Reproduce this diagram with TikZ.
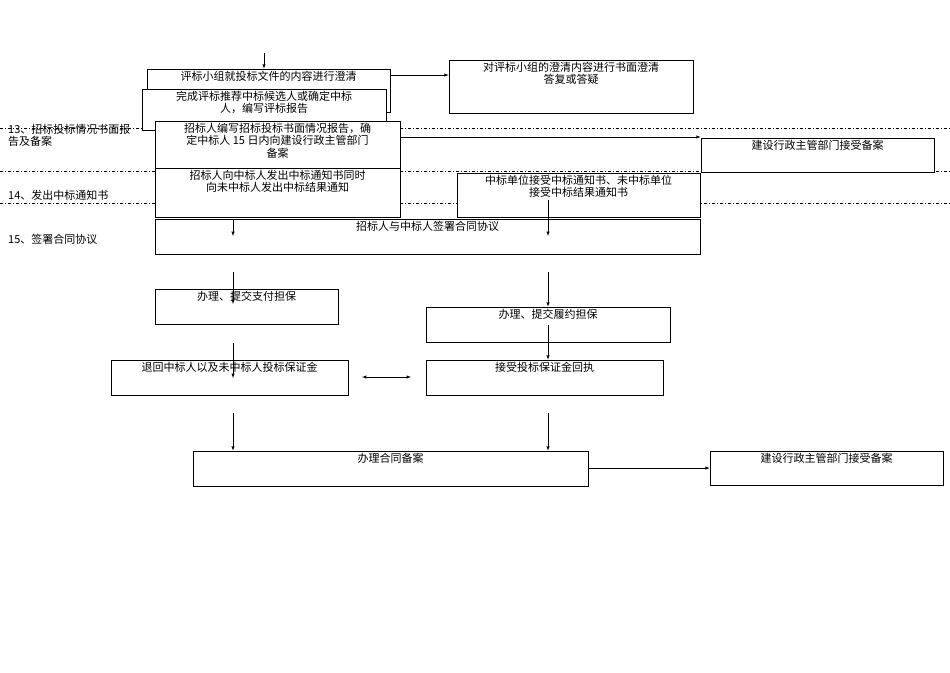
\documentclass[tikz,border=0pt]{standalone}
\usepackage{fontspec}
\setmainfont{Liberation Serif}
\newfontfamily\cjk{Noto Sans CJK SC}
\begin{document}
\begin{tikzpicture}[x=1pt,y=-1pt,
  box/.style={draw,fill=white,line width=0.6pt,inner sep=0pt},
  lbl/.style={anchor=north,align=center,font=\cjk\fontsize{11}{12.5}\selectfont,inner sep=1pt},
  side/.style={anchor=north west,align=left,font=\cjk\fontsize{11}{12.5}\selectfont,inner sep=0pt},
  arr/.style={-latex,line width=0.5pt},
  sep/.style={line width=0.5pt,dash pattern=on 3pt off 2pt on 1pt off 2pt}]
\useasboundingbox (0,0) rectangle (950,672);
\newcommand{\bx}[6]{\node[box,minimum width={#4-#2},minimum height={#5-#3},
  label={[lbl,yshift=-1pt]north:{#6}}] (#1) at ({(#2+#4)/2},{(#3+#5)/2}) {};}
\draw[sep] (0,128) -- (950,128);
\draw[sep] (0,171) -- (950,171);
\draw[sep] (0,203) -- (950,203);
\node[side] (t13) at (8,124) {13、招标投标情况书面报\\告及备案};
\node[side] (t14) at (8,190) {14、发出中标通知书};
\node[side] (t15) at (8,234) {15、签署合同协议};
\bx{b1}{147}{69}{390}{112}{评标小组就投标文件的内容进行澄清}
\bx{b2}{142}{89}{386}{130}{完成评标推荐中标候选人或确定中标\\人，编写评标报告}
\bx{b3}{155}{121}{400}{168}{招标人编写招标投标书面情况报告，确\\定中标人 15 日内向建设行政主管部门\\备案}
\bx{b4}{155}{168}{400}{217}{招标人向中标人发出中标通知书同时\\向未中标人发出中标结果通知}
\bx{b5}{449}{60}{693}{113}{对评标小组的澄清内容进行书面澄清\\答复或答疑}
\bx{b6}{701}{138}{934}{172}{建设行政主管部门接受备案}
\bx{b7}{457}{173}{700}{217}{中标单位接受中标通知书、未中标单位\\接受中标结果通知书}
\bx{b8}{155}{219}{700}{254}{招标人与中标人签署合同协议}
\bx{b9}{155}{289}{338}{324}{办理、提交支付担保}
\bx{b10}{426}{307}{670}{342}{办理、提交履约担保}
\bx{b11}{111}{360}{348}{395}{退回中标人以及未中标人投标保证金}
\bx{b12}{426}{360}{663}{395}{接受投标保证金回执}
\bx{b13}{193}{451}{588}{486}{办理合同备案}
\bx{b14}{710}{451}{943}{485}{建设行政主管部门接受备案}
\coordinate (s0) at (264,53);
\draw[arr] (s0) -- (b1.north -| s0);
\draw[arr] (b1.east |- 0,75) -- (b5.west |- 0,75);
\draw[arr] (b3.east |- 0,137) -- (b6.west |- 0,137);
\coordinate (a1) at (233,219); \coordinate (a1e) at (233,236);
\draw[arr] (a1) -- (a1e);
\coordinate (a2) at (548,200); \coordinate (a2e) at (548,236);
\draw[arr] (a2) -- (a2e);
\coordinate (a3) at (233,272); \coordinate (a3e) at (233,304);
\draw[arr] (a3) -- (a3e);
\coordinate (a4) at (548,272);
\draw[arr] (a4) -- (b10.north -| a4);
\coordinate (a5) at (233,343); \coordinate (a5e) at (233,378);
\draw[arr] (a5) -- (a5e);
\coordinate (a6) at (548,325);
\draw[arr] (a6) -- (b12.north -| a6);
\coordinate (d1) at (362,377); \coordinate (d2) at (411,377);
\draw[latex-latex,line width=0.5pt] (d1) -- (d2);
\coordinate (a7) at (233,413);
\draw[arr] (a7) -- (b13.north -| a7);
\coordinate (a8) at (548,413);
\draw[arr] (a8) -- (b13.north -| a8);
\draw[arr] (b13.east |- 0,468) -- (b14.west |- 0,468);
\end{tikzpicture}
\end{document}
